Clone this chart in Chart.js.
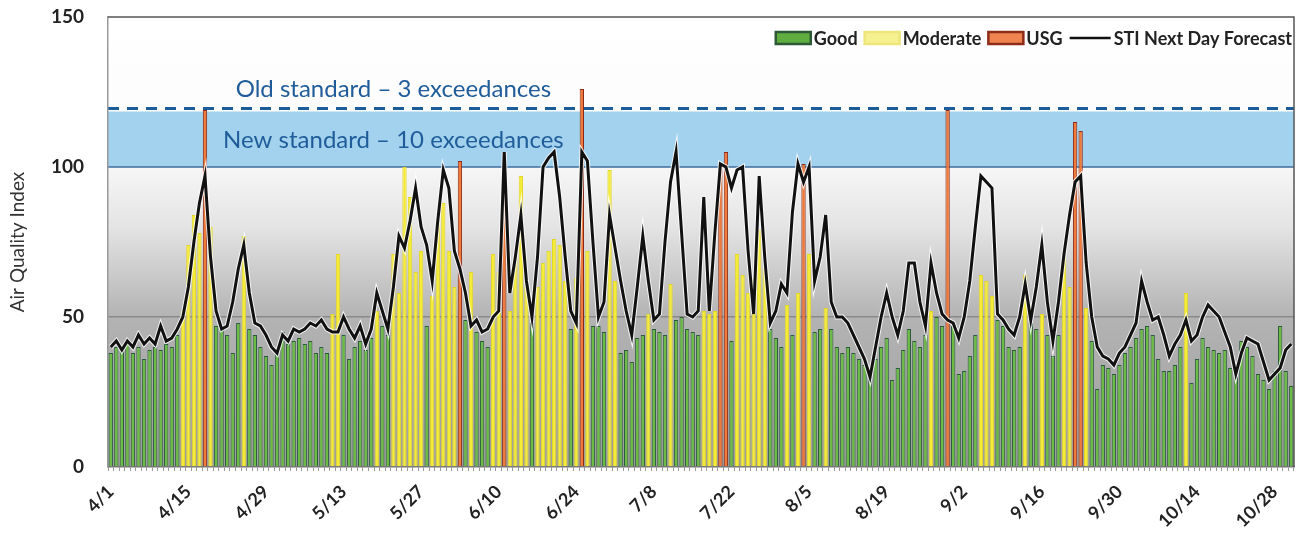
<!DOCTYPE html>
<html>
<head>
<meta charset="utf-8">
<script src="https://cdn.jsdelivr.net/npm/chart.js"></script>
<style>
html, body { margin: 0; padding: 0; background: #fff; }
#wrap { width: 1296px; height: 539px; }
</style>
</head>
<body>
<div id="wrap"><canvas id="aqiChart" width="1296" height="539"></canvas></div>
<script>
// daily AQI, 4/1 .. 10/31
var aqi = [
    38,40,39,41,38,40,36,39,40,39,
    41,40,44,52,74,84,78,119,80,47,
    46,44,38,48,77,46,44,40,37,34,
    38,45,41,42,43,41,42,38,40,38,
    51,71,44,36,40,42,39,43,52,47,
    44,71,58,100,90,65,72,47,57,82,
    88,72,60,102,49,65,45,42,40,71,
    65,105,52,70,97,60,48,60,68,72,
    76,74,62,46,63,126,72,47,47,45,
    99,62,38,39,35,43,44,51,46,45,
    44,61,49,50,46,45,44,52,51,52,
    101,105,42,71,64,58,63,79,66,46,
    43,40,54,44,58,101,71,45,46,53,
    46,40,38,40,38,36,34,30,36,40,
    43,29,33,39,46,42,40,44,52,50,
    47,119,47,31,32,37,44,64,62,57,
    49,47,40,39,40,64,48,46,51,44,
    37,44,71,60,115,112,53,42,26,34,
    33,31,34,38,40,43,46,47,44,36,
    32,32,34,40,58,28,36,43,40,39,
    38,39,33,30,42,40,37,31,29,26,
    32,47,32,27
];

// STI next day forecast
var forecast = [
    40,42,39,42,40,44,41,43,41,47,
    42,43,46,50,60,75,88,97,70,52,
    46,47,55,66,74,58,48,47,44,40,
    38,44,42,46,45,46,48,47,49,46,
    45,45,50,46,43,47,41,46,58,52,
    46,60,77,73,82,93,80,74,62,82,
    99,93,72,66,58,47,49,45,46,50,
    52,105,58,70,84,62,50,70,100,103,
    105,90,70,52,48,105,102,75,50,55,
    84,73,62,52,44,60,77,62,49,51,
    75,95,105,78,51,50,52,90,52,78,
    101,100,93,99,100,72,51,97,70,48,
    52,61,58,85,101,95,100,62,70,84,
    55,50,50,48,44,40,36,30,40,50,
    58,50,44,52,68,68,55,47,68,58,
    51,49,48,43,50,62,80,97,95,93,
    51,49,46,44,50,61,49,60,74,55,
    42,55,71,84,95,97,68,50,40,37,
    36,34,38,40,44,48,62,55,49,50,
    44,37,41,44,49,42,44,50,54,52,
    50,45,40,31,38,43,42,41,35,29,
    31,33,39,41
];

var oldStandard = 119.5;
var newStandard = 100;
var bandTop = 118.5;

var days = [];
for (var i = 0; i < aqi.length; i++) {
    var d = new Date(2015, 3, 1 + i);
    days.push((d.getMonth() + 1) + '/' + d.getDate());
}

// split by AQI category
var good = aqi.map(function(v){ return v <= 50 ? v : null; });
var moderate = aqi.map(function(v){ return (v > 50 && v <= 100) ? v : null; });
var usg = aqi.map(function(v){ return v > 100 ? v : null; });

var FONT = 'Lato, "Open Sans", sans-serif';

var backdrop = {
    id: 'backdrop',
    beforeDraw: function(chart) {
        var c = chart.ctx, a = chart.chartArea, y = chart.scales.y;
        var t = function(v){ return (y.getPixelForValue(v) - a.top) / (a.bottom - a.top); };
        c.save();
        var g = c.createLinearGradient(0, a.top, 0, a.bottom);
        g.addColorStop(0, '#ffffff');
        g.addColorStop(t(105), '#fbfbfb');
        g.addColorStop(t(80), '#e4e4e4');
        g.addColorStop(t(50), '#b3b3b3');
        g.addColorStop(1, '#9e9e9e');
        c.fillStyle = g;
        c.fillRect(a.left, a.top, a.right - a.left, a.bottom - a.top);

        // new standard band
        var yTop = y.getPixelForValue(bandTop), y100 = y.getPixelForValue(newStandard);
        c.fillStyle = '#a3d2ee';
        c.fillRect(a.left, yTop, a.right - a.left, y100 - yTop);

        c.strokeStyle = '#3f6d9c';
        c.lineWidth = 1.5;
        c.beginPath(); c.moveTo(a.left, y100); c.lineTo(a.right, y100); c.stroke();

        c.strokeStyle = '#1d5c9b';
        c.lineWidth = 3;
        c.setLineDash([11, 8]);
        var yOld = y.getPixelForValue(oldStandard);
        c.beginPath(); c.moveTo(a.left, yOld); c.lineTo(a.right, yOld); c.stroke();
        c.restore();
    },
    afterDatasetsDraw: function(chart) {
        var c = chart.ctx, x = chart.scales.x, y = chart.scales.y, a = chart.chartArea;
        c.save();
        c.fillStyle = '#1f5c99';
        c.font = '24px ' + FONT;
        c.textAlign = 'center';
        c.textBaseline = 'middle';
        c.fillText('Old standard \u2013 3 exceedances', x.getPixelForValue(51), y.getPixelForValue(126));
        c.fillText('New standard \u2013 10 exceedances', x.getPixelForValue(51), y.getPixelForValue(109));

        // frame
        c.strokeStyle = '#555';
        c.lineWidth = 1.5;
        c.beginPath();
        c.moveTo(a.left, a.top); c.lineTo(a.right, a.top); c.lineTo(a.right, a.bottom);
        c.stroke();
        c.restore();
    },
    afterDraw: function(chart) {
        // legend, top right inside the plot
        var c = chart.ctx, a = chart.chartArea;
        var items = [
            { text: 'Good', fill: '#5fae3f', stroke: '#2d5936' },
            { text: 'Moderate', fill: '#f6f190', stroke: '#eee67c' },
            { text: 'USG', fill: '#f08450', stroke: '#8e2c1a' },
            { text: 'STI Next Day Forecast', line: '#111' }
        ];
        c.save();
        c.font = 'bold 18px ' + FONT;
        c.textBaseline = 'middle';
        var boxW = 35, gap = 3, sep = 7, yMid = a.top + 21;
        var total = 0;
        items.forEach(function(it){ total += boxW + gap + c.measureText(it.text).width + sep; });
        var xPos = a.right - 8 - total + sep;
        items.forEach(function(it){
            if (it.line) {
                c.strokeStyle = it.line; c.lineWidth = 2.5;
                c.beginPath(); c.moveTo(xPos, yMid); c.lineTo(xPos + boxW + 6, yMid); c.stroke();
                xPos += 6;
            } else {
                c.fillStyle = it.fill; c.strokeStyle = it.stroke; c.lineWidth = 2.5;
                c.fillRect(xPos, yMid - 6, boxW, 12);
                c.strokeRect(xPos, yMid - 6, boxW, 12);
            }
            xPos += boxW + gap;
            c.fillStyle = '#222';
            c.fillText(it.text, xPos, yMid + 1);
            xPos += c.measureText(it.text).width + sep;
        });
        c.restore();
    }
};

var ctx = document.getElementById('aqiChart');

var aqiChart = new Chart(ctx, {
    type: 'bar',
    data: {
        labels: days,
        datasets: [
            {
                type: 'line', label: 'STI Next Day Forecast', data: forecast,
                borderColor: '#111', borderWidth: 3, pointRadius: 0, tension: 0, order: 0
            },
            {
                type: 'line', label: 'halo', data: forecast,
                borderColor: 'rgba(255,255,255,0.85)', borderWidth: 5, pointRadius: 0, tension: 0, order: 1
            },
            {
                label: 'Good', data: good, backgroundColor: '#6cbb45',
                borderColor: '#2c5a40', borderWidth: 1, order: 2
            },
            {
                label: 'Moderate', data: moderate, backgroundColor: '#f5ec38',
                borderColor: '#e2d52c', borderWidth: 1, order: 2
            },
            {
                label: 'USG', data: usg, backgroundColor: '#f07a3a',
                borderColor: '#8a2a1a', borderWidth: 1, order: 2
            }
        ]
    },
    options: {
        responsive: false,
        animation: false,
        devicePixelRatio: 1,
        layout: { padding: { top: 17, right: 2, left: 0, bottom: 0 } },
        datasets: {
            bar: { grouped: false, barPercentage: 0.78, categoryPercentage: 1.0 }
        },
        plugins: {
            legend: { display: false },
            tooltip: { enabled: false }
        },
        scales: {
            x: {
                grid: {
                    display: true,
                    color: 'rgba(0,0,0,0)',
                    drawTicks: true,
                    tickLength: 4,
                    tickColor: '#9a9a9a'
                },
                border: { color: '#777', width: 1.5 },
                ticks: {
                    autoSkip: false,
                    minRotation: 45,
                    maxRotation: 45,
                    padding: 10,
                    color: '#222',
                    font: { family: FONT, size: 18, weight: 'bold' },
                    callback: function(val, idx) {
                        return idx % 14 === 0 ? this.getLabelForValue(val) : '';
                    }
                },
                afterFit: function(scale) {
                    scale.height = 72;
                    scale.paddingLeft = 0;
                    scale.paddingRight = 0;
                }
            },
            y: {
                min: 0,
                max: 150,
                ticks: {
                    stepSize: 50,
                    padding: 24,
                    color: '#222',
                    font: { family: FONT, size: 19, weight: 'bold' }
                },
                grid: {
                    drawTicks: false,
                    color: function(c) { return c.tick && c.tick.value === 50 ? '#8a8a8a' : 'rgba(0,0,0,0)'; },
                    lineWidth: 1.5
                },
                border: { color: '#999', width: 1.5 },
                title: {
                    display: true,
                    text: 'Air Quality Index',
                    color: '#333',
                    padding: { top: 6, bottom: 2 },
                    font: { family: FONT, size: 19 }
                },
                afterFit: function(scale) {
                    scale.width = 108;
                    scale.paddingTop = 0;
                    scale.paddingBottom = 0;
                }
            }
        }
    },
    plugins: [backdrop]
});
</script>
</body>
</html>
